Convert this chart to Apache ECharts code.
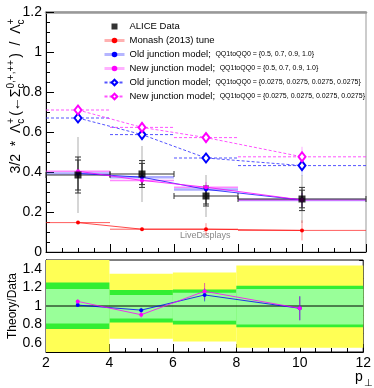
<!DOCTYPE html>
<html>
<head>
<meta charset="utf-8">
<script src="https://cdn.jsdelivr.net/npm/echarts@6/dist/echarts.min.js"></script>
<style>
html,body{margin:0;padding:0;background:#fff;}
#main{width:374px;height:388px;}
</style>
</head>
<body>
<div id="main"></div>
<script>
// bins (p_perp)
var binLo = [2, 4, 6, 8];
var binHi = [4, 6, 8, 12];
var xMid = [3, 5, 7, 10];
// ALICE data
var dataVal = [0.385, 0.39, 0.28, 0.265];
var dataTot = [0.19, 0.14, 0.105, 0.12];
var dataStatA = [0.09, 0.067, 0.05, 0.058];
var dataStatB = [0.075, 0.053, 0.04, 0.044];
// MC
var monash = [0.147, 0.114, 0.114, 0.108];
var monashErr = [0.005, 0.008, 0.03, 0.05];
var oldJ = [0.393, 0.374, 0.313, 0.26];
var oldJErr = [0.005, 0.01, 0.02, 0.035];
var newJ = [0.404, 0.358, 0.324, 0.26];
var newJErr = [0.006, 0.012, 0.025, 0.035];
var oldJ2 = [0.67, 0.587, 0.47, 0.432];
var oldJ2Err = [0.008, 0.012, 0.02, 0.05];
var newJ2 = [0.71, 0.623, 0.572, 0.476];
var newJ2Err = [0.008, 0.012, 0.02, 0.05];
// ratio panel
var ratioOld = [1.01, 0.955, 1.12, 0.975];
var ratioOldErr = [0.015, 0.025, 0.07, 0.13];
var ratioNew = [1.05, 0.905, 1.16, 0.975];
var ratioNewErr = [0.02, 0.03, 0.09, 0.13];
var bandTotLo = [0.5, 0.645, 0.615, 0.547];
var bandTotHi = [1.5, 1.35, 1.365, 1.44];
var bandStatALo = [0.75, 0.82, 0.80, 0.77];
var bandStatAHi = [1.255, 1.175, 1.18, 1.22];
var bandStatBLo = [0.81, 0.865, 0.84, 0.80];
var bandStatBHi = [1.185, 1.12, 1.145, 1.186];

var yTicksRatio = [0.6, 0.8, 1, 1.2, 1.4];
var yMinorRatio = [0.5, 0.7, 0.9, 1.1, 1.3, 1.5];

var FONT = '"Liberation Sans", Arial, Helvetica, sans-serif';
var RED = '#ff0000', BLUE = '#0000ff', MAG = '#ff00ff';

function zip2(a, b){ return a.map(function(v, i){ return [v, b[i]]; }); }
function bins(vals){ return vals.map(function(v, i){ return [binLo[i], binHi[i], v]; }); }
function errs(vals, e){ return vals.map(function(v, i){ return [xMid[i], v - e[i], v + e[i]]; }); }

// horizontal bin segments
function segSeries(data, gi, style, cap, z){
	return {
		type: 'custom', xAxisIndex: gi, yAxisIndex: gi, z: z || 2, silent: true,
		data: data,
		renderItem: function(params, api){
			var y = api.value(2);
			var p1 = api.coord([api.value(0), y]), p2 = api.coord([api.value(1), y]);
			var kids = [{ type: 'line', shape: {x1: p1[0], y1: p1[1], x2: p2[0], y2: p2[1]}, style: style }];
			if(cap){
				kids.push({ type: 'line', shape: {x1: p1[0], y1: p1[1]-cap, x2: p1[0], y2: p1[1]+cap}, style: style });
				kids.push({ type: 'line', shape: {x1: p2[0], y1: p2[1]-cap, x2: p2[0], y2: p2[1]+cap}, style: style });
			}
			return { type: 'group', children: kids };
		}
	};
}
// vertical error bars
function errSeries(data, gi, style, cap, z){
	return {
		type: 'custom', xAxisIndex: gi, yAxisIndex: gi, z: z || 3, silent: true,
		data: data,
		renderItem: function(params, api){
			var x = api.value(0);
			var lo = api.coord([x, api.value(1)]), hi = api.coord([x, api.value(2)]);
			var cs = params.coordSys;
			var top = Math.max(hi[1], cs.y), bot = Math.min(lo[1], cs.y + cs.height);
			var kids = [{ type: 'line', shape: {x1: lo[0], y1: top, x2: lo[0], y2: bot}, style: style }];
			if(cap){
				kids.push({ type: 'line', shape: {x1: lo[0]-cap, y1: lo[1], x2: lo[0]+cap, y2: lo[1]}, style: style });
				kids.push({ type: 'line', shape: {x1: hi[0]-cap, y1: hi[1], x2: hi[0]+cap, y2: hi[1]}, style: style });
			}
			return { type: 'group', children: kids };
		}
	};
}
// ratio bands
function bandSeries(lo, hi, color, z){
	var data = lo.map(function(v, i){ return [binLo[i], binHi[i], v, hi[i]]; });
	return {
		type: 'custom', xAxisIndex: 1, yAxisIndex: 1, z: z, silent: true,
		data: data,
		renderItem: function(params, api){
			var a = api.coord([api.value(0), api.value(3)]);
			var b = api.coord([api.value(1), api.value(2)]);
			var cs = params.coordSys;
			var rect = echarts.graphic.clipRectByRect(
				{x: a[0], y: a[1], width: b[0]-a[0], height: b[1]-a[1]},
				{x: cs.x, y: cs.y, width: cs.width, height: cs.height});
			return rect && { type: 'rect', shape: rect, style: { fill: color } };
		}
	};
}

function xAxisCfg(gi, labels){
	return {
		gridIndex: gi, type: 'value', min: 2, max: 12, interval: 2,
		axisLine: { lineStyle: { color: '#000', width: 1 } },
		axisTick: { inside: true, length: 8, lineStyle: { color: '#000' } },
		minorTick: { show: true, splitNumber: 4, length: 4, lineStyle: { color: '#000' } },
		axisLabel: { show: labels, fontSize: 14, color: '#000', fontFamily: FONT, margin: 4 },
		splitLine: { show: false }
	};
}

var legendNames = [
	'ALICE Data',
	'Monash (2013) tune',
	'Old junction model; QQ1toQQ0 = {0.5, 0.7, 0.9, 1.0}',
	'New junction model; QQ1toQQ0 = {0.5, 0.7, 0.9, 1.0}',
	'Old junction model; QQ1toQQ0 = {0.0275, 0.0275, 0.0275, 0.0275}',
	'New junction model; QQ1toQQ0 = {0.0275, 0.0275, 0.0275, 0.0275}'
];

// y-axis title, built from pieces with super/subscripts
var ctx = document.createElement('canvas').getContext('2d');
function tw(t, s){ ctx.font = s + 'px ' + FONT; return ctx.measureText(t).width; }
function scriptTitle(pieces, cx, cy, size, ssize){
	var kids = [], x = 0;
	pieces.forEach(function(p){
		if(p.t){
			kids.push({ type: 'text', x: x, y: 0, style: { text: p.t, font: size + 'px ' + FONT, fill: '#000', verticalAlign: 'bottom' } });
			x += tw(p.t, size);
		} else {
			kids.push({ type: 'text', x: x, y: -size*0.45, style: { text: p.sup, font: ssize + 'px ' + FONT, fill: '#000', verticalAlign: 'bottom' } });
			kids.push({ type: 'text', x: x, y: size*0.25, style: { text: p.sub, font: ssize + 'px ' + FONT, fill: '#000', verticalAlign: 'bottom' } });
			x += Math.max(tw(p.sup, ssize), tw(p.sub, ssize)) + 2;
		}
	});
	kids.forEach(function(k){ k.x -= x / 2; });
	return { type: 'group', x: cx, y: cy, rotation: Math.PI / 2, children: kids };
}

var chart = echarts.init(document.getElementById('main'), null, { renderer: 'canvas' });
chart.setOption({
	animation: false,
	backgroundColor: '#fff',
	grid: [
		{ left: 46, top: 12, width: 320, height: 240, show: true, borderColor: '#999', borderWidth: 1 },
		{ left: 46, top: 260, width: 320, height: 92, show: true, borderColor: '#000', borderWidth: 1 }
	],
	xAxis: [
		xAxisCfg(0, false),
		xAxisCfg(1, true),
		{ gridIndex: 0, type: 'value', min: 2, max: 12, position: 'top',
		  axisLine: { lineStyle: { color: '#999', width: 2.5 } }, axisTick: { show: false },
		  axisLabel: { show: false }, splitLine: { show: false } }
	],
	yAxis: [
		{ gridIndex: 0, type: 'value', min: 0, max: 1.2, interval: 0.2,
		  axisLine: { show: true, lineStyle: { color: '#000' } },
		  axisTick: { inside: true, length: 8, lineStyle: { color: '#000' } },
		  minorTick: { show: true, splitNumber: 4, length: 4, lineStyle: { color: '#000' } },
		  axisLabel: { fontSize: 14, color: '#000', fontFamily: FONT, margin: 4 },
		  splitLine: { show: false } },
		{ gridIndex: 1, type: 'value', min: 0.5, max: 1.5,
		  axisLine: { show: true, lineStyle: { color: '#000' } },
		  axisTick: { inside: true, length: 8, customValues: yTicksRatio, lineStyle: { color: '#000' } },
		  axisLabel: { fontSize: 14, color: '#000', fontFamily: FONT, margin: 4, customValues: yTicksRatio },
		  splitLine: { show: false } },
		{ gridIndex: 1, type: 'value', min: 0.5, max: 1.5,
		  axisLine: { show: false },
		  axisTick: { inside: true, length: 4, customValues: yMinorRatio, lineStyle: { color: '#000' } },
		  axisLabel: { show: false }, splitLine: { show: false } }
	],
	legend: {
		orient: 'vertical', left: 98, top: 16, itemWidth: 20, itemHeight: 7, itemGap: 3,
		selectedMode: false,
		textStyle: { fontFamily: FONT, fontSize: 7, color: '#000', lineHeight: 11,
			rich: { m: { fontFamily: FONT, fontSize: 9.5, color: '#000', lineHeight: 11 } } },
		formatter: function(name){
			var i = name.indexOf(';');
			if(i < 0) return '{m|' + name + '}';
			return '{m|' + name.slice(0, i + 1) + ' }{s|' + name.slice(i + 1) + '}';
		},
		data: [
			{ name: legendNames[0], icon: 'path://M0,0M20,7M7,0.5h6v6h-6z' },
			{ name: legendNames[1], lineStyle: { width: 3, color: 'rgba(255,60,60,0.4)' } },
			{ name: legendNames[2], lineStyle: { width: 3, color: 'rgba(70,70,255,0.4)' } },
			{ name: legendNames[3], lineStyle: { width: 3, color: 'rgba(255,60,255,0.4)' } },
			{ name: legendNames[4] },
			{ name: legendNames[5] }
		]
	},
	graphic: [
		scriptTitle([{t: '3/2  *  Λ'}, {sup: '+', sub: 'c'}, {t: '(←Σ'}, {sup: '0,+,++', sub: 'c'}, {t: ')  /  Λ'}, {sup: '+', sub: 'c'}], 23, 95, 14, 10),
		{ type: 'text', x: 19, y: 306, rotation: Math.PI / 2,
		  style: { text: 'Theory/Data', font: '12px ' + FONT, fill: '#000', align: 'center', verticalAlign: 'bottom' } },
		{ type: 'text', x: 355, y: 370, style: { text: 'p', font: '14px ' + FONT, fill: '#000' } },
		{ type: 'text', x: 364, y: 378, style: { text: '⊥', font: '10px ' + FONT, fill: '#000' } },
		{ type: 'text', x: 180, y: 231, style: { text: 'LiveDisplays', font: '9px ' + FONT, fill: '#888' } }
	],
	series: [
		// ---- top panel ----
		errSeries(errs(dataVal, dataTot), 0, { stroke: '#c8c8c8', lineWidth: 1.5 }, 0, 2),
		errSeries(errs(monash, monashErr), 0, { stroke: 'rgba(255,0,0,0.45)', lineWidth: 1 }, 0, 3),
		errSeries(errs(oldJ2, oldJ2Err), 0, { stroke: 'rgba(80,80,255,0.35)', lineWidth: 1 }, 0, 3),
		errSeries(errs(newJ2, newJ2Err), 0, { stroke: 'rgba(255,0,255,0.35)', lineWidth: 1 }, 0, 3),
		errSeries(errs(oldJ, oldJErr), 0, { stroke: 'rgba(0,0,255,0.5)', lineWidth: 1 }, 0, 3),
		errSeries(errs(newJ, newJErr), 0, { stroke: 'rgba(255,0,255,0.5)', lineWidth: 1 }, 0, 3),
		segSeries(bins(dataVal), 0, { stroke: '#333', lineWidth: 1 }, 3, 4),
		segSeries(bins(monash), 0, { stroke: 'rgba(255,40,40,0.75)', lineWidth: 1 }, 0, 3),
		segSeries(bins(oldJ), 0, { stroke: 'rgba(70,70,255,0.45)', lineWidth: 2.5 }, 0, 3),
		segSeries(bins(newJ), 0, { stroke: 'rgba(255,40,255,0.55)', lineWidth: 1.5 }, 0, 3),
		segSeries(bins(oldJ2), 0, { stroke: 'rgba(40,40,255,0.8)', lineWidth: 1, lineDash: [3, 2] }, 0, 3),
		segSeries(bins(newJ2), 0, { stroke: 'rgba(255,40,255,0.8)', lineWidth: 1, lineDash: [3, 2] }, 0, 3),
		errSeries(errs(dataVal, dataStatA), 0, { stroke: '#333', lineWidth: 1 }, 3, 5),
		errSeries(errs(dataVal, dataStatB), 0, { stroke: '#333', lineWidth: 1 }, 3, 5),
		{ name: legendNames[0], type: 'scatter', xAxisIndex: 0, yAxisIndex: 0, z: 8,
		  data: zip2(xMid, dataVal), symbol: 'rect', symbolSize: 7, itemStyle: { color: '#000' } },
		{ name: legendNames[1], type: 'line', xAxisIndex: 0, yAxisIndex: 0, z: 6,
		  data: zip2(xMid, monash), symbol: 'circle', symbolSize: 4,
		  itemStyle: { color: RED }, lineStyle: { color: 'rgba(255,0,0,0.7)', width: 1 } },
		{ name: legendNames[2], type: 'line', xAxisIndex: 0, yAxisIndex: 0, z: 6,
		  data: zip2(xMid, oldJ), symbol: 'circle', symbolSize: 4,
		  itemStyle: { color: BLUE }, lineStyle: { color: 'rgba(0,0,255,0.75)', width: 1 } },
		{ name: legendNames[3], type: 'line', xAxisIndex: 0, yAxisIndex: 0, z: 6,
		  data: zip2(xMid, newJ), symbol: 'circle', symbolSize: 4,
		  itemStyle: { color: MAG }, lineStyle: { color: 'rgba(255,0,255,0.8)', width: 1 } },
		{ name: legendNames[4], type: 'line', xAxisIndex: 0, yAxisIndex: 0, z: 6,
		  data: zip2(xMid, oldJ2), symbol: 'emptyDiamond', symbolSize: [7, 9],
		  itemStyle: { color: BLUE, borderWidth: 1 }, lineStyle: { color: 'rgba(40,40,255,0.8)', width: 1, type: [3, 2] } },
		{ name: legendNames[5], type: 'line', xAxisIndex: 0, yAxisIndex: 0, z: 6,
		  data: zip2(xMid, newJ2), symbol: 'emptyDiamond', symbolSize: [7, 9],
		  itemStyle: { color: MAG, borderWidth: 1 }, lineStyle: { color: 'rgba(255,40,255,0.8)', width: 1, type: [3, 2] } },
		// ---- ratio panel ----
		bandSeries(bandTotLo, bandTotHi, '#ffff55', 1),
		bandSeries(bandStatALo, bandStatAHi, '#33ee33', 2),
		bandSeries(bandStatBLo, bandStatBHi, '#99ff99', 3),
		segSeries([[2, 12, 1]], 1, { stroke: '#000', lineWidth: 1 }, 0, 4),
		errSeries(errs(ratioOld, ratioOldErr), 1, { stroke: 'rgba(0,0,255,0.6)', lineWidth: 1 }, 0, 5),
		errSeries(errs(ratioNew, ratioNewErr), 1, { stroke: 'rgba(200,0,200,0.6)', lineWidth: 1 }, 0, 5),
		{ type: 'line', xAxisIndex: 1, yAxisIndex: 1, z: 6, silent: true,
		  data: zip2(xMid, ratioOld), symbol: 'circle', symbolSize: 4,
		  itemStyle: { color: BLUE }, lineStyle: { color: 'rgba(0,0,255,0.8)', width: 1 } },
		{ type: 'line', xAxisIndex: 1, yAxisIndex: 1, z: 6, silent: true,
		  data: zip2(xMid, ratioNew), symbol: 'circle', symbolSize: 4,
		  itemStyle: { color: MAG }, lineStyle: { color: 'rgba(255,0,255,0.8)', width: 1 } }
	]
});
</script>
</body>
</html>
